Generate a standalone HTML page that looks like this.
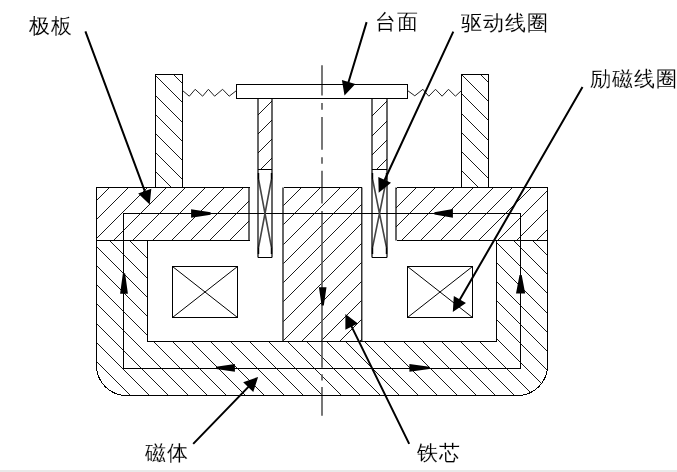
<!DOCTYPE html>
<html><head><meta charset="utf-8"><style>
html,body{margin:0;padding:0;background:#fff;width:677px;height:472px;overflow:hidden}
svg{position:absolute;left:0;top:0}
.lb{position:absolute;font-family:"Liberation Sans",sans-serif;font-size:21px;line-height:22px;letter-spacing:1.1px;color:#000;white-space:nowrap;-webkit-text-stroke:0.12px #fff;will-change:transform}
</style></head><body>
<svg width="677" height="472" viewBox="0 0 677 472">
<defs><clipPath id="ctl"><path d="M155.5 74.5H182.5V187.5H155.5Z"/></clipPath><clipPath id="ctr"><path d="M461.5 74.5H488.5V187.5H461.5Z"/></clipPath><clipPath id="cpl"><path d="M258.0 98.5H272.0V169.5H258.0Z"/></clipPath><clipPath id="cpr"><path d="M372.0 98.5H387.0V169.5H372.0Z"/></clipPath><clipPath id="cpll"><path d="M96.5 187.5H249.0V240.5H96.5Z"/></clipPath><clipPath id="cplr"><path d="M396.0 187.5H547.5V240.5H396.0Z"/></clipPath><clipPath id="ccore"><path d="M283.5 187.5H361.5V341.5H283.5Z"/></clipPath><clipPath id="cbody"><path d="M96.5 240.5H147.5V341.5H496.5V240.5H547.5V365.5A30 30 0 0 1 517.5 395.5H126.5A30 30 0 0 1 96.5 365.5Z"/></clipPath></defs>
<rect x="0" y="0" width="677" height="472" fill="#fff"/>
<rect x="0" y="470" width="677" height="2" fill="#e9e9e9"/>
<g stroke="#1a1a1a" stroke-width="1" fill="none" shape-rendering="crispEdges"><path clip-path="url(#ctl)" d="M36.50 72.50L153.50 189.50M56.50 72.50L173.50 189.50M75.50 72.50L192.50 189.50M94.50 72.50L211.50 189.50M113.50 72.50L230.50 189.50M132.50 72.50L249.50 189.50M152.50 72.50L269.50 189.50M171.50 72.50L288.50 189.50M190.50 72.50L307.50 189.50"/><path clip-path="url(#ctr)" d="M344.50 72.50L461.50 189.50M363.50 72.50L480.50 189.50M382.50 72.50L499.50 189.50M401.50 72.50L518.50 189.50M420.50 72.50L537.50 189.50M440.50 72.50L557.50 189.50M459.50 72.50L576.50 189.50M478.50 72.50L595.50 189.50M497.50 72.50L614.50 189.50"/><path clip-path="url(#cpl)" d="M182.50 171.50L257.50 96.50M201.50 171.50L276.50 96.50M220.50 171.50L295.50 96.50M239.50 171.50L314.50 96.50M258.50 171.50L333.50 96.50M278.50 171.50L353.50 96.50"/><path clip-path="url(#cpr)" d="M297.50 171.50L372.50 96.50M316.50 171.50L391.50 96.50M336.50 171.50L411.50 96.50M355.50 171.50L430.50 96.50M374.50 171.50L449.50 96.50M393.50 171.50L468.50 96.50"/><path clip-path="url(#cpll)" d="M34.50 242.50L91.50 185.50M54.50 242.50L111.50 185.50M73.50 242.50L130.50 185.50M92.50 242.50L149.50 185.50M111.50 242.50L168.50 185.50M130.50 242.50L187.50 185.50M150.50 242.50L207.50 185.50M169.50 242.50L226.50 185.50M188.50 242.50L245.50 185.50M207.50 242.50L264.50 185.50M227.50 242.50L284.50 185.50M246.50 242.50L303.50 185.50M265.50 242.50L322.50 185.50"/><path clip-path="url(#cplr)" d="M322.50 242.50L379.50 185.50M342.50 242.50L399.50 185.50M361.50 242.50L418.50 185.50M380.50 242.50L437.50 185.50M399.50 242.50L456.50 185.50M418.50 242.50L475.50 185.50M438.50 242.50L495.50 185.50M457.50 242.50L514.50 185.50M476.50 242.50L533.50 185.50M495.50 242.50L552.50 185.50M514.50 242.50L571.50 185.50M534.50 242.50L591.50 185.50M553.50 242.50L610.50 185.50"/><path clip-path="url(#ccore)" d="M126.50 343.50L284.50 185.50M145.50 343.50L303.50 185.50M164.50 343.50L322.50 185.50M184.50 343.50L342.50 185.50M203.50 343.50L361.50 185.50M222.50 343.50L380.50 185.50M241.50 343.50L399.50 185.50M261.50 343.50L419.50 185.50M280.50 343.50L438.50 185.50M299.50 343.50L457.50 185.50M318.50 343.50L476.50 185.50M337.50 343.50L495.50 185.50M357.50 343.50L515.50 185.50M376.50 343.50L534.50 185.50"/><path clip-path="url(#cbody)" d="M-64.50 238.50L94.50 397.50M-45.50 238.50L113.50 397.50M-26.50 238.50L132.50 397.50M-7.50 238.50L151.50 397.50M11.50 238.50L170.50 397.50M31.50 238.50L190.50 397.50M50.50 238.50L209.50 397.50M69.50 238.50L228.50 397.50M88.50 238.50L247.50 397.50M107.50 238.50L266.50 397.50M127.50 238.50L286.50 397.50M146.50 238.50L305.50 397.50M165.50 238.50L324.50 397.50M184.50 238.50L343.50 397.50M203.50 238.50L362.50 397.50M223.50 238.50L382.50 397.50M242.50 238.50L401.50 397.50M261.50 238.50L420.50 397.50M280.50 238.50L439.50 397.50M300.50 238.50L459.50 397.50M319.50 238.50L478.50 397.50M338.50 238.50L497.50 397.50M357.50 238.50L516.50 397.50M376.50 238.50L535.50 397.50M396.50 238.50L555.50 397.50M415.50 238.50L574.50 397.50M434.50 238.50L593.50 397.50M453.50 238.50L612.50 397.50M472.50 238.50L631.50 397.50M492.50 238.50L651.50 397.50M511.50 238.50L670.50 397.50M530.50 238.50L689.50 397.50M549.50 238.50L708.50 397.50"/></g>
<path d="M322 65.2V95.6M322 103V109.7M322 117.1V149.8M322 157.2V163.7M322 170.8V203.5M322 211V367.7M322 374.3V380.5M322 387V415.7" stroke="#555" stroke-width="1.6" fill="none"/>
<path d="M155.5 74.5H182.5V187.5H155.5ZM461.5 74.5H488.5V187.5H461.5ZM236.5 84.5H407.5V98.5H236.5ZM172.5 266.5H237.5V317.5H172.5ZM407.5 266.5H472.5V317.5H407.5ZM123.5 213.5H520.5V368.5H123.5ZM96.5 240.5H147.5V341.5H496.5V240.5H547.5V365.5A30 30 0 0 1 517.5 395.5H126.5A30 30 0 0 1 96.5 365.5ZM283.5 187.5H361.5M249.5 187.5H96.5V240.5H249.5M396.5 187.5H547.5V240.5H396.5" stroke="#000" stroke-width="1" fill="none" shape-rendering="crispEdges"/>
<path d="M258.5 173V179L265.0 213.5L258.5 247.5V254M271.5 173V179L265.0 213.5L271.5 247.5V254M372.5 173V179L379.5 213.5L372.5 247.5V254M386.5 173V179L379.5 213.5L386.5 247.5V254" stroke="#444" stroke-width="1.6" fill="none"/>
<path d="M258.5 173V179M258.5 247.5V254M271.5 173V179M271.5 247.5V254M372.5 173V179M372.5 247.5V254M386.5 173V179M386.5 247.5V254" stroke="#000" stroke-width="1" fill="none" shape-rendering="crispEdges"/>
<path d="M258.0 98.5V257.5M272.0 98.5V257.5M372.0 98.5V257.5M387.0 98.5V257.5M283.0 187.5V341.5M361.8 187.5V341.5M249.0 187.5V240.5M396.0 187.5V240.5" stroke="#000" stroke-width="1.2" fill="none"/>
<path d="M258.0 169.5H272.0M258.0 257.5H272.0M372.0 169.5H387.0M372.0 257.5H387.0" stroke="#000" stroke-width="1" fill="none" shape-rendering="crispEdges"/>
<path d="M182.5 90.5L189.3 96.2L195.2 89.3L202.6 96.2L208.4 89.3L214.6 96.2L222.6 89.3L229.2 96.2L236.5 90.5M407.5 90.5L414.8 95.8L422.9 89.3L428.8 96.2L435.5 89.3L442.1 96.2L448.5 89.3L455.4 96.2L461.5 90.5" stroke="#222" stroke-width="1" fill="none"/>
<path d="M172.5 266.5L237.5 317.5M237.5 266.5L172.5 317.5M407.5 266.5L472.5 317.5M472.5 266.5L407.5 317.5" stroke="#000" stroke-width="1" fill="none"/>
<path d="M191.1 209.2L210.6 212.3L210.6 214.7L191.1 217.8ZM452.9 209.1L434.4 212.20000000000002L434.4 214.6L452.9 217.70000000000002ZM234.9 364.0L216.1 366.7L216.1 369.09999999999997L234.9 371.79999999999995ZM409.4 364.0L429.3 366.7L429.3 369.09999999999997L409.4 371.79999999999995ZM120.1 293.7L122.9 273.3L125.1 273.3L127.9 293.7ZM516.0 293.6L519.5 275.0L521.7 275.0L525.2 293.6ZM318.9 287.2L321.59999999999997 305.5L323.8 305.5L326.5 287.2Z" fill="#000"/>
<path d="M85.40 31.40L145.45 192.96M366.60 22.10L348.02 83.82M453.30 31.60L383.82 181.73M582.50 87.00L458.89 301.33M193.20 443.90L249.61 385.66M409.20 443.90L350.77 324.85" stroke="#000" stroke-width="2" fill="none"/>
<path d="M149.70 204.40L138.19 193.53L151.31 188.65ZM344.50 95.50L341.89 79.88L355.30 83.92ZM378.70 192.80L378.31 176.97L391.02 182.85ZM452.80 311.90L453.83 296.10L465.96 303.10ZM258.10 376.90L253.25 391.97L243.19 382.23ZM345.40 313.90L357.94 323.56L345.37 329.73Z" fill="#000"/>
</svg>
<div class="lb" style="left:28.5px;top:14.5px">极板</div><div class="lb" style="left:375px;top:11px">台面</div><div class="lb" style="left:460.5px;top:12px">驱动线圈</div><div class="lb" style="left:589.5px;top:68px">励磁线圈</div><div class="lb" style="left:145px;top:442px">磁体</div><div class="lb" style="left:417px;top:442px">铁芯</div>
</body></html>
